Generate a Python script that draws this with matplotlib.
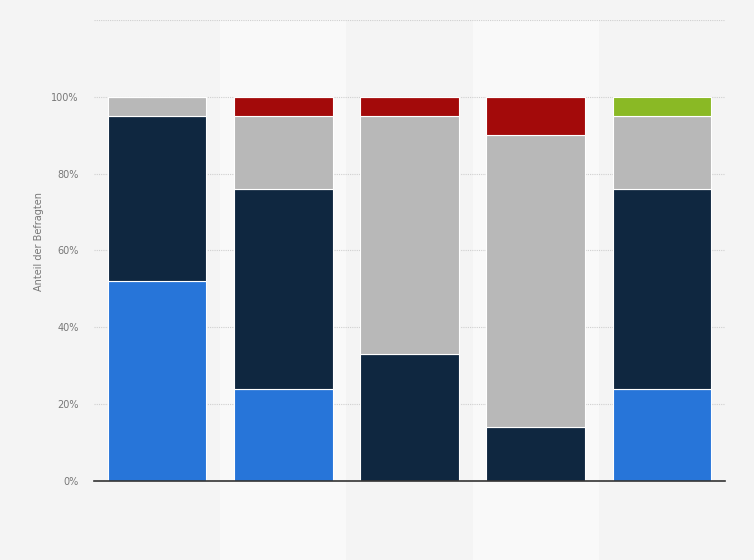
import matplotlib
matplotlib.use("Agg")
import matplotlib.pyplot as plt
from matplotlib.patches import Rectangle

# share of respondents per group (percent), stacked bottom -> top
groups = ["1", "2", "3", "4", "5"]
blue = [52, 24, 0, 0, 24]
dark = [43, 52, 33, 14, 52]
grey = [5, 19, 62, 76, 19]
red = [0, 5, 5, 10, 0]
green = [0, 0, 0, 0, 5]

series = [
    (blue, "#2775d9"),
    (dark, "#0f2740"),
    (grey, "#b8b8b8"),
    (red, "#a30a0a"),
    (green, "#8ab925"),
]

yticks = [0, 20, 40, 60, 80, 100, 120]
ylabels = ["0%", "20%", "40%", "60%", "80%", "100%", ""]

fig = plt.figure(figsize=(7.54, 5.6), dpi=100, facecolor="#f4f4f4")
ax = fig.add_axes([0.1247, 0.1411, 0.8368, 0.8232])
ax.set_facecolor("#f4f4f4")

x = list(range(len(groups)))
ax.set_xlim(-0.5, len(groups) - 0.5)
ax.set_ylim(0, 120)

# lighter bands behind every second column
for i in x:
    if i % 2 == 1:
        ax.add_patch(Rectangle((i - 0.5, -21), 1, 141, facecolor="#f9f9f9",
                               edgecolor="none", zorder=0, clip_on=False))

ax.set_yticks(yticks)
ax.set_yticklabels(ylabels)
ax.grid(axis="y", color="#cfcfcf", linestyle=(0, (1, 1)), linewidth=0.8, zorder=1)
ax.set_axisbelow(True)

bottom = [0] * len(groups)
for vals, col in series:
    ax.bar(x, vals, width=0.78, bottom=bottom, color=col, edgecolor="white",
           linewidth=0.8, zorder=2)
    bottom = [b + v for b, v in zip(bottom, vals)]

ax.set_xticks([])
ax.tick_params(axis="y", length=0, labelsize=7, labelcolor="#777777", pad=11)
for s in ["top", "right", "left"]:
    ax.spines[s].set_visible(False)
ax.spines["bottom"].set_color("#333333")
ax.spines["bottom"].set_linewidth(1.2)
ax.spines["bottom"].set_zorder(3)

ax.set_ylabel("Anteil der Befragten", fontsize=7, color="#777777")
ax.yaxis.set_label_coords(-0.079, 0.52)

fig.savefig("out.png", dpi=100, facecolor=fig.get_facecolor())
